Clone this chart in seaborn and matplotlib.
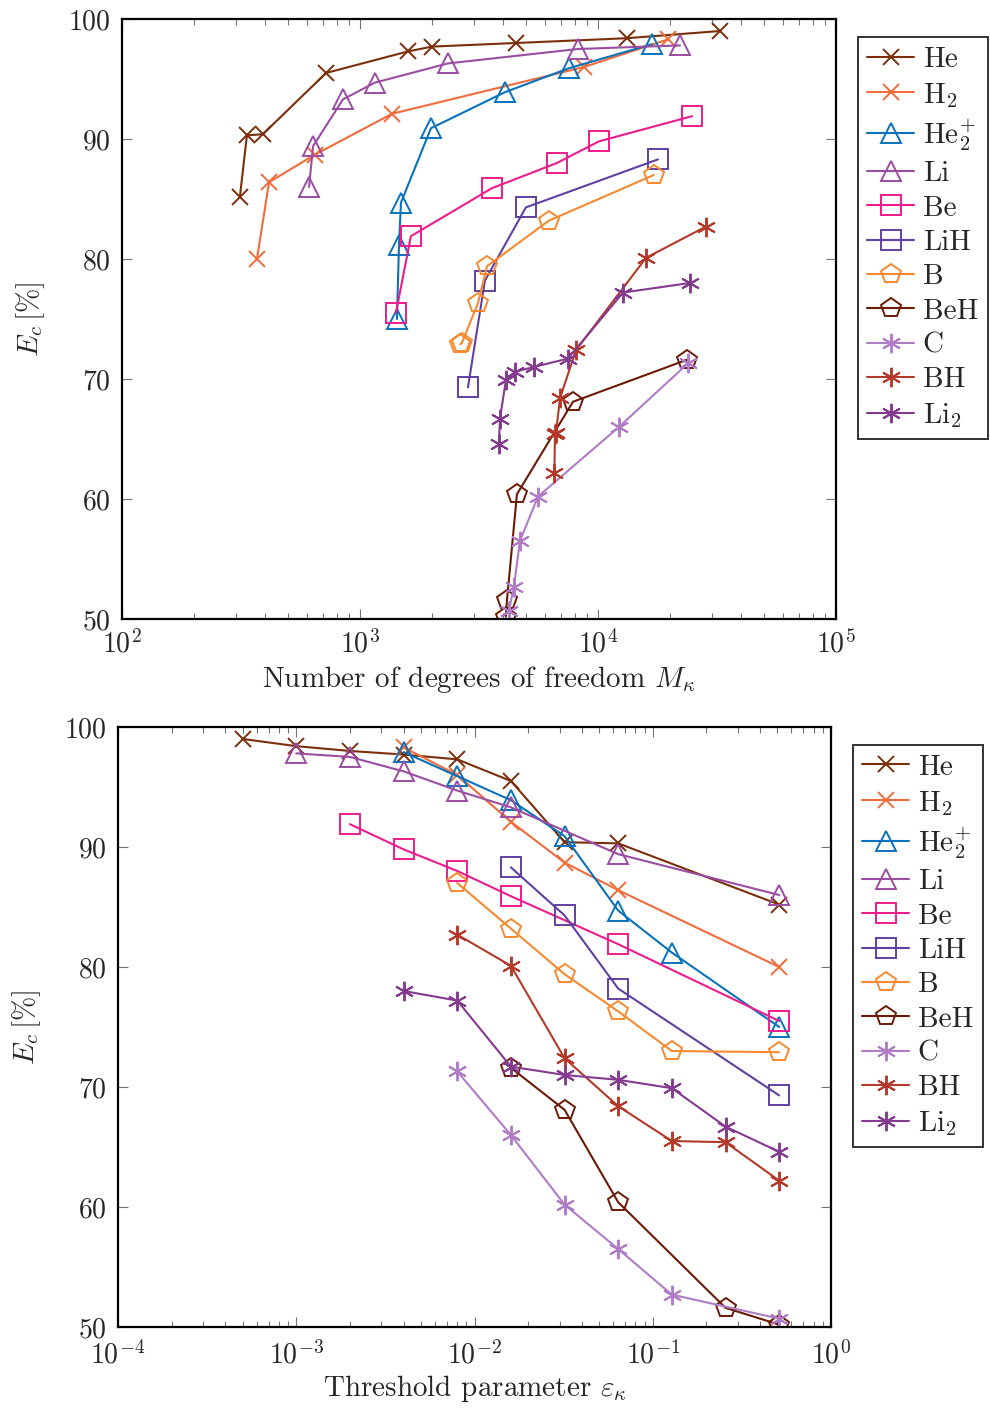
import matplotlib
matplotlib.use("Agg")
import matplotlib.pyplot as plt
import seaborn as sns
from matplotlib.ticker import LogLocator, NullFormatter, FixedLocator

sns.set_style("ticks")
plt.rcParams.update({
    "font.family": ["cmr10", "DejaVu Serif"],
    "mathtext.fontset": "cm",
    "axes.unicode_minus": False,
    "axes.formatter.use_mathtext": True,
})

# ---------------- data ----------------
names = ["He", "H$_2$", "He$_2^{+}$", "Li", "Be", "LiH", "B", "BeH", "C", "BH", "Li$_2$"]

He_eps = [5e-4, 1e-3, 2e-3, 4e-3, 8e-3, 0.016, 0.032, 0.064, 0.512]
He_M = [32560, 13240, 4520, 2008, 1592, 720, 391, 335, 313]
He_E = [99.0, 98.4, 98.0, 97.7, 97.3, 95.5, 90.4, 90.3, 85.2]

H2_eps = [4e-3, 8e-3, 0.016, 0.032, 0.064, 0.512]
H2_M = [19690, 8735, 1363, 647, 415, 369]
H2_E = [98.3, 96.0, 92.1, 88.7, 86.4, 80.0]

He2p_eps = [4e-3, 8e-3, 0.016, 0.032, 0.064, 0.128, 0.512]
He2p_M = [16870, 7550, 4066, 1988, 1487, 1459, 1430]
He2p_E = [97.9, 95.9, 93.9, 90.9, 84.7, 81.2, 75.0]

Li_eps = [1e-3, 2e-3, 4e-3, 8e-3, 0.016, 0.064, 0.512]
Li_M = [22120, 8240, 2344, 1156, 848, 635, 611]
Li_E = [97.8, 97.5, 96.3, 94.7, 93.3, 89.4, 86.0]

Be_eps = [2e-3, 4e-3, 8e-3, 0.016, 0.064, 0.512]
Be_M = [24830, 10090, 6725, 3586, 1637, 1416]
Be_E = [91.9, 89.8, 88.0, 85.9, 81.9, 75.5]

LiH_eps = [0.016, 0.032, 0.064, 0.512]
LiH_M = [17870, 4980, 3350, 2843]
LiH_E = [88.3, 84.3, 78.2, 69.3]

B_eps = [8e-3, 0.016, 0.032, 0.064, 0.128, 0.512]
B_M = [17180, 6225, 3420, 3130, 2680, 2640]
B_E = [87.0, 83.2, 79.4, 76.3, 73.0, 72.9]

BeH_eps = [0.016, 0.032, 0.064, 0.256, 0.512]
BeH_M = [23650, 7850, 4567, 4148, 4100]
BeH_E = [71.6, 68.1, 60.4, 51.6, 50.2]

C_eps = [8e-3, 0.016, 0.032, 0.064, 0.128, 0.512]
C_M = [23880, 12250, 5597, 4700, 4436, 4226]
C_E = [71.3, 66.0, 60.2, 56.5, 52.7, 50.7]

BH_eps = [8e-3, 0.016, 0.032, 0.064, 0.128, 0.256, 0.512]
BH_M = [28430, 15920, 8085, 6925, 6665, 6600, 6560]
BH_E = [82.7, 80.1, 72.4, 68.4, 65.5, 65.4, 62.2]

Li2_eps = [4e-3, 8e-3, 0.016, 0.032, 0.064, 0.128, 0.256, 0.512]
Li2_M = [24360, 12740, 7480, 5380, 4480, 4105, 3875, 3838]
Li2_E = [78.0, 77.2, 71.7, 71.0, 70.6, 69.9, 66.7, 64.6]

series_eps = [He_eps, H2_eps, He2p_eps, Li_eps, Be_eps, LiH_eps, B_eps, BeH_eps, C_eps, BH_eps, Li2_eps]
series_M = [He_M, H2_M, He2p_M, Li_M, Be_M, LiH_M, B_M, BeH_M, C_M, BH_M, Li2_M]
series_E = [He_E, H2_E, He2p_E, Li_E, Be_E, LiH_E, B_E, BeH_E, C_E, BH_E, Li2_E]

colors = ["#7B2E0A", "#F26B3A", "#0A72BA", "#9B4DA3", "#EC1C8C", "#6040A0",
          "#F7892F", "#6B1A06", "#B07CC6", "#B5392A", "#843A8F"]
ast = (6, 2, 0)
markers = ["x", "x", "^", "^", "s", "s", "p", "p", ast, ast, ast]
msizes = [12, 12, 14, 14, 15, 15, 15, 15, 14, 14, 14]

# ---------------- figure ----------------
fig = plt.figure(figsize=(9.9, 14.08), dpi=100)
ax1 = fig.add_axes([0.1232, 0.5604, 0.7212, 0.4261])
ax2 = fig.add_axes([0.1192, 0.0575, 0.7202, 0.4262])


def draw(ax, xs_list):
    for name, xs, ys, c, m, ms in zip(names, xs_list, series_E, colors, markers, msizes):
        sns.lineplot(x=xs, y=ys, ax=ax, sort=False, estimator=None, color=c,
                     marker=m, markersize=ms, markerfacecolor="none",
                     markeredgecolor=c, markeredgewidth=1.4, linewidth=1.5,
                     label=name)


draw(ax1, series_M)
draw(ax2, series_eps)

for ax, xlim, xlabel, xpad in [(ax1, (1e2, 1e5), "Number of degrees of freedom $M_\\kappa$", 8),
                               (ax2, (1e-4, 1e0), "Threshold parameter $\\varepsilon_\\kappa$", 10)]:
    ax.set_xscale("log")
    ax.set_xlim(*xlim)
    ax.set_ylim(50, 100)
    ax.yaxis.set_major_locator(FixedLocator([50, 60, 70, 80, 90, 100]))
    ax.xaxis.set_major_locator(LogLocator(base=10, numticks=10))
    ax.xaxis.set_minor_locator(LogLocator(base=10, subs=range(2, 10), numticks=20))
    ax.xaxis.set_minor_formatter(NullFormatter())
    ax.set_xlabel(xlabel, fontsize=21, labelpad=4 if xpad == 8 else 2)
    ax.set_ylabel("$E_c\\,[\\%]$", fontsize=21, labelpad=15)
    ax.tick_params(which="both", direction="in", top=True, right=True,
                   labelsize=20, color="0.45", width=0.8)
    ax.tick_params(axis="x", which="major", length=7, pad=xpad)
    ax.tick_params(axis="y", which="major", length=7, pad=8)
    ax.tick_params(which="minor", length=4)
    ax.yaxis.set_minor_locator(FixedLocator([]))
    for s in ax.spines.values():
        s.set_linewidth(1.6)
        s.set_color("black")
    h, l = ax.get_legend_handles_labels()
    leg = ax.legend(h, l, loc="upper left", bbox_to_anchor=(1.031, 0.97),
                    fontsize=21, frameon=True, fancybox=False, edgecolor="black",
                    handlelength=1.6, handletextpad=0.3, labelspacing=0.27,
                    borderpad=0.32, borderaxespad=0)
    leg.get_frame().set_linewidth(1.4)

fig.savefig("out.png", dpi=100)
